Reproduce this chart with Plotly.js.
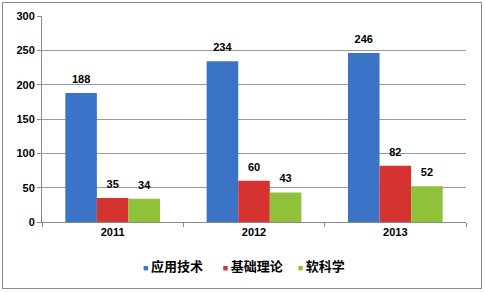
<!DOCTYPE html>
<html><head><meta charset="utf-8">
<script src="https://cdn.plot.ly/plotly-3.0.1.min.js"></script>
<style>
body{margin:0;padding:0;background:#fff;}
#wrap{position:relative;width:485px;height:293px;}
#chart{width:485px;height:293px;}
#frame{position:absolute;left:2px;top:2px;width:478px;height:285px;border:1px solid #8a8a8a;pointer-events:none;}
</style></head>
<body><div id="wrap"><div id="chart"></div><div id="frame"></div></div>
<script>
const years = ['2011', '2012', '2013'];
const seriesNames = ['应用技术', '基础理论', '软科学'];
const applied = [188, 234, 246];
const basic = [35, 60, 82];
const soft = [34, 43, 52];
const colors = ['#3b73c6', '#d4332f', '#8fc23a'];
const yTicks = [0, 50, 100, 150, 200, 250, 300];

const fontFam = '"Liberation Sans", Arial, "Noto Sans CJK SC", sans-serif';
const values = [applied, basic, soft];
const groups = ['g1', 'g2', 'g3'];
const legendIds = ['legend', 'legend2', 'legend3'];
const legendX = [0.144, 0.332, 0.509];

const traces = [];
values.forEach((v, i) => {
  traces.push({
    type: 'bar', x: years, y: v, name: seriesNames[i], offsetgroup: groups[i],
    marker: {color: colors[i], line: {width: 0}}, showlegend: false
  });
});
values.forEach((v, i) => {
  traces.push({
    type: 'scatter', mode: 'markers+text', x: years, y: v, offsetgroup: groups[i],
    marker: {size: 10, opacity: 0, color: 'rgba(0,0,0,0)'}, text: v.map(String), textposition: 'top center',
    cliponaxis: false, showlegend: false,
    textfont: {family: fontFam, size: 11, color: '#000', weight: 'bold'}
  });
});
values.forEach((v, i) => {
  traces.push({
    type: 'scatter', mode: 'markers', x: [null], y: [null], offsetgroup: groups[i],
    marker: {size: 1, opacity: 0, color: 'rgba(0,0,0,0)', line: {width: 0}}, legend: legendIds[i], showlegend: true,
    name: '<span style="color:' + colors[i] + ';font-size:9px">■ </span>' + seriesNames[i]
  });
});

const layout = {
  width: 485, height: 293,
  margin: {l: 42, r: 19, t: 16, b: 71, autoexpand: false},
  paper_bgcolor: '#fff', plot_bgcolor: '#fff',
  barmode: 'group', bargap: 0.33, bargroupgap: 0,
  scattermode: 'group', scattergap: 0.33,
  font: {family: fontFam, size: 11, color: '#000'},
  xaxis: {type: 'category', showline: true, linecolor: '#8a8a8a', linewidth: 1,
    ticks: 'outside', ticklen: 4, tickcolor: '#8a8a8a', tickson: 'boundaries',
    tickfont: {family: fontFam, size: 11, weight: 'bold'}, showgrid: false, zeroline: false},
  yaxis: {range: [0, 300], tickvals: yTicks, showline: true, linecolor: '#8a8a8a', linewidth: 1,
    ticks: 'outside', ticklen: 4, tickcolor: '#8a8a8a', gridcolor: '#9a9a9a', gridwidth: 1,
    tickfont: {family: fontFam, size: 11, weight: 'bold'}, zeroline: false}
};
legendIds.forEach((id, i) => {
  layout[id] = {x: legendX[i], xanchor: 'left', y: -0.214, yanchor: 'middle',
    bgcolor: 'rgba(0,0,0,0)', borderwidth: 0,
    font: {family: fontFam, size: 13, weight: 'bold', color: '#000'}};
});

Plotly.newPlot('chart', traces, layout, {displayModeBar: false, staticPlot: true});
</script></body></html>
